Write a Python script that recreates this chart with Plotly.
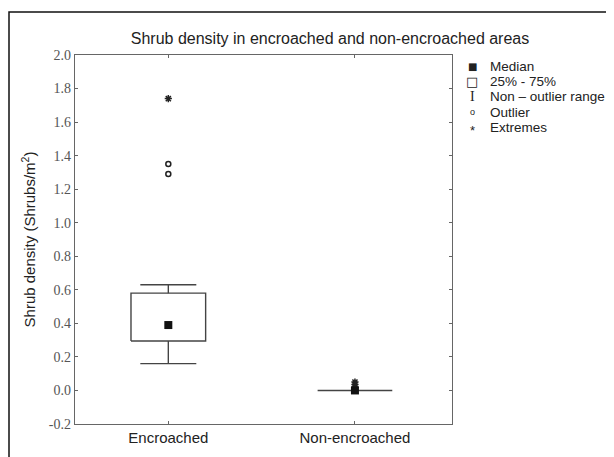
import plotly.graph_objects as go

categories = ["Encroached", "Non-encroached"]
medians = [0.39, 0.0]
q1 = [0.295, 0.0]
q3 = [0.58, 0.0]
whisker_low = [0.16, 0.0]
whisker_high = [0.63, 0.0]
outliers = [[1.29, 1.35], []]
extremes = [[1.74], [0.02, 0.035, 0.05]]

yticks = [-0.2, 0.0, 0.2, 0.4, 0.6, 0.8, 1.0, 1.2, 1.4, 1.6, 1.8, 2.0]

legend_labels = ["Median", "25% - 75%", "Non \u2013 outlier range", "Outlier", "Extremes"]
legend_symbols = ["\u25a0", "\u25a1", "I", "o", "*"]

LINE = "#444444"
HALF = 0.2
CAP = 0.15

# figure is placed by the page with an 8px body margin
W, H = 606, 449
ML, MR, MT, MB = 67, 162, 47, 33
PW, PH = W - ML - MR, H - MT - MB

fig = go.Figure()

for i, cat in enumerate(categories):
    if q1[i] != q3[i]:
        bx = [i - HALF, i + HALF, i + HALF, i - HALF, i - HALF]
        by = [q1[i], q1[i], q3[i], q3[i], q1[i]]
        fig.add_trace(go.Scatter(x=bx, y=by, mode="lines", line=dict(color=LINE, width=1.4),
                                 showlegend=False, hoverinfo="skip"))
        wx = [i, i, None, i, i, None, i - CAP, i + CAP, None, i - CAP, i + CAP]
        wy = [q3[i], whisker_high[i], None, q1[i], whisker_low[i], None,
              whisker_high[i], whisker_high[i], None, whisker_low[i], whisker_low[i]]
    else:
        wx = [i - HALF, i + HALF]
        wy = [q1[i], q1[i]]
    fig.add_trace(go.Scatter(x=wx, y=wy, mode="lines", line=dict(color=LINE, width=1.4),
                             showlegend=False, hoverinfo="skip"))

ox, oy = [], []
for i, vals in enumerate(outliers):
    for v in vals:
        ox.append(i); oy.append(v)
fig.add_trace(go.Scatter(x=ox, y=oy, mode="markers",
                         marker=dict(symbol="circle-open", size=5, color="#222", line=dict(width=1.5)),
                         showlegend=False))
ex, ey = [], []
for i, vals in enumerate(extremes):
    for v in vals:
        ex.append(i); ey.append(v)
fig.add_trace(go.Scatter(x=ex, y=ey, mode="markers",
                         marker=dict(symbol="asterisk-open", size=6, color="#222",
                                     line=dict(width=1.5, color="#222")),
                         showlegend=False))
fig.add_trace(go.Scatter(x=list(range(len(categories))), y=medians, mode="markers",
                         marker=dict(symbol="square", size=8, color="#111"),
                         showlegend=False))

# legend drawn as text (Statistica style)
leg_rows_px = [67 - 55, 82 - 55, 97 - 55, 113 - 55, 128 - 55]  # below plot top
sym_sizes = [10, 13, 14, 9, 13]
sym_fonts = ["DejaVu Sans", "DejaVu Sans", "Liberation Serif", "Liberation Sans", "Liberation Sans"]
sym_dy = [0, 0, 0, 1, -3]
for k, (lab, sym) in enumerate(zip(legend_labels, legend_symbols)):
    yp = 1 - leg_rows_px[k] / PH
    fig.add_annotation(xref="paper", yref="paper", x=(488 - 75) / PW, y=yp,
                       xanchor="left", yanchor="middle", text=lab, showarrow=False,
                       font=dict(family="Liberation Sans, Arial", size=13.5, color="#222"))
    fig.add_annotation(xref="paper", yref="paper", x=(472 - 75) / PW, y=yp, yshift=sym_dy[k],
                       xanchor="center", yanchor="middle", text=sym, showarrow=False,
                       font=dict(family=sym_fonts[k], size=sym_sizes[k], color="#222"))

fig.update_layout(
    width=W, height=H,
    margin=dict(l=ML, r=MR, t=MT, b=MB),
    paper_bgcolor="white", plot_bgcolor="white",
    title=dict(text="Shrub density in encroached and non-encroached areas",
               x=322 / W, xanchor="center", y=1 - 30 / H, yanchor="middle",
               font=dict(family="Liberation Sans, Arial", size=16, color="#222")),
    showlegend=False,
    xaxis=dict(range=[-0.5, 1.52], tickmode="array", tickvals=list(range(len(categories))),
               ticktext=categories, showgrid=False, zeroline=False, showline=True,
               linecolor="#666", linewidth=1.4, mirror="allticks", ticks="inside", ticklen=3,
               tickcolor="#666",
               tickfont=dict(family="Liberation Sans, Arial", size=15, color="#222")),
    yaxis=dict(range=[-0.2, 2.0], tickmode="array", tickvals=yticks,
               ticktext=[f"{v:.1f}" for v in yticks], showgrid=False, zeroline=False,
               showline=True, linecolor="#666", linewidth=1.4, mirror="allticks",
               ticks="inside", ticklen=3, tickcolor="#666",
               tickfont=dict(family="Liberation Serif, Times New Roman, serif", size=14, color="#555"),
               title=dict(text="Shrub density (Shrubs/m<sup>2</sup>)", standoff=9,
                          font=dict(family="Liberation Sans, Arial", size=15, color="#222"))),
)

fig.add_shape(type="rect", xref="paper", yref="paper",
              x0=(1 - ML) / PW, x1=1.5, y0=-0.5, y1=(H - MB - 4) / PH,
              line=dict(color="#111", width=1.5), layer="below")

fig.write_html("out.html")
